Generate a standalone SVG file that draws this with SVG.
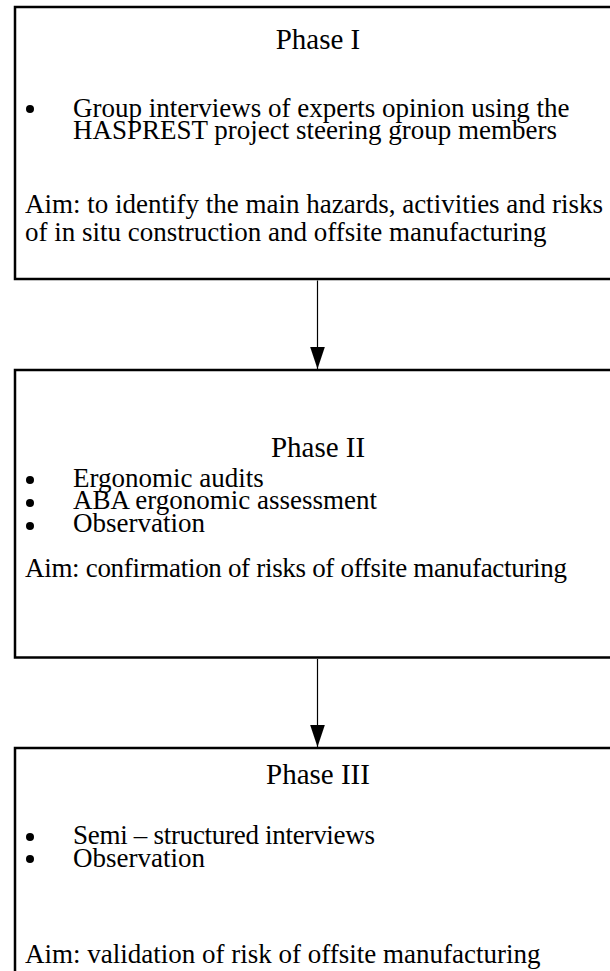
<svg xmlns="http://www.w3.org/2000/svg" width="610" height="971" viewBox="0 0 610 971">
  <defs>
    <style>
      .box { fill: #ffffff; stroke: #000000; stroke-width: 2.5; }
      .title { font-family: "Liberation Serif", "Times New Roman", serif; font-size: 29px; text-anchor: middle; fill: #000000; }
      .body { font-family: "Liberation Serif", "Times New Roman", serif; font-size: 27px; fill: #000000; }
      .dot { fill: #000000; }
      .link { stroke: #000000; stroke-width: 1.2; fill: none; }
    </style>
    <!-- filled triangular head, drawn along +x so orient="auto" points it down the line -->
    <marker id="arrowhead" markerUnits="userSpaceOnUse" markerWidth="22" markerHeight="16" refX="21" refY="7" orient="auto" viewBox="0 0 21 14">
      <path d="M0,0 L21,7 L0,14 Z" fill="#000000"/>
    </marker>
  </defs>
  <rect x="0" y="0" width="610" height="971" fill="#ffffff"/>

  <g id="phase1">
    <rect class="box" x="15" y="7" width="620" height="272"/>
    <text class="title" x="318" y="49">Phase I</text>
    <circle class="dot" cx="30" cy="109" r="4"/>
    <text class="body" x="73" y="117">Group interviews of experts opinion using the</text>
    <text class="body" x="73" y="139">HASPREST project steering group members</text>
    <text class="body" x="25" y="213">Aim: to identify the main hazards, activities and risks</text>
    <text class="body" x="25" y="241">of in situ construction and offsite manufacturing</text>
  </g>

  <g id="phase2">
    <rect class="box" x="15" y="370" width="620" height="287.5"/>
    <text class="title" x="318" y="457">Phase II</text>
    <circle class="dot" cx="30" cy="480" r="4"/>
    <text class="body" x="73" y="487">Ergonomic audits</text>
    <circle class="dot" cx="30" cy="503" r="4"/>
    <text class="body" x="73" y="509">ABA ergonomic assessment</text>
    <circle class="dot" cx="30" cy="526" r="4"/>
    <text class="body" x="73" y="532">Observation</text>
    <text class="body" x="25" y="577" textLength="542" lengthAdjust="spacing">Aim: confirmation of risks of offsite manufacturing</text>
  </g>

  <g id="phase3">
    <rect class="box" x="15" y="748" width="620" height="260"/>
    <text class="title" x="318" y="784">Phase III</text>
    <circle class="dot" cx="30" cy="837" r="4"/>
    <text class="body" x="73" y="844" textLength="302" lengthAdjust="spacing">Semi – structured interviews</text>
    <circle class="dot" cx="30" cy="859" r="4"/>
    <text class="body" x="73" y="867">Observation</text>
    <text class="body" x="25" y="963">Aim: validation of risk of offsite manufacturing</text>
  </g>

  <g id="connectors">
    <line class="link" x1="317.5" y1="280.5" x2="317.5" y2="369" marker-end="url(#arrowhead)"/>
    <line class="link" x1="317.5" y1="659" x2="317.5" y2="747" marker-end="url(#arrowhead)"/>
  </g>
</svg>
